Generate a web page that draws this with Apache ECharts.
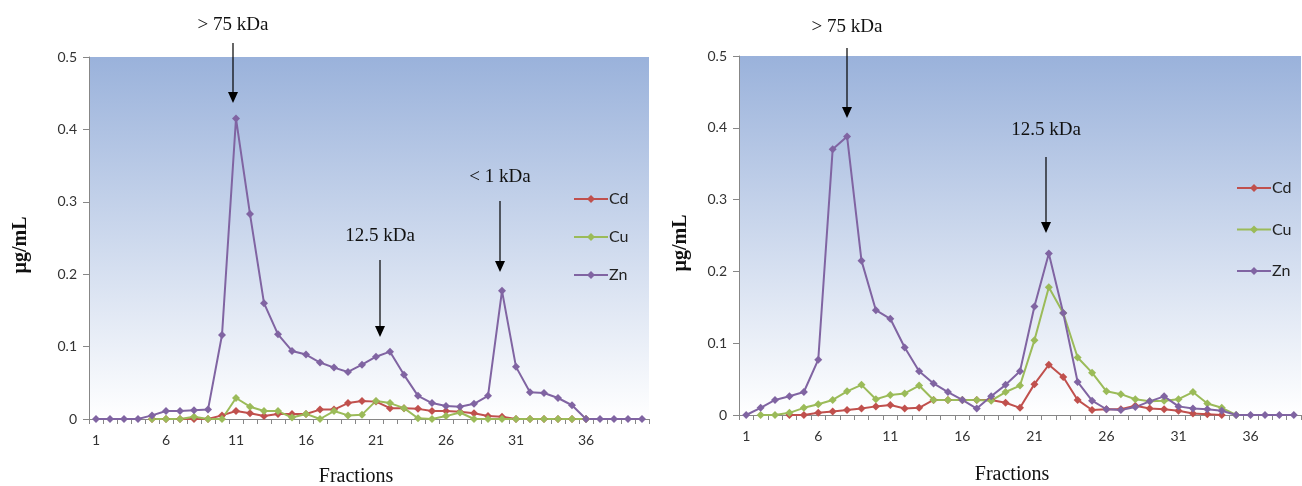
<!DOCTYPE html>
<html>
<head>
<meta charset="utf-8">
<script src="https://cdn.jsdelivr.net/npm/echarts@6/dist/echarts.min.js"></script>
<style>
html,body{margin:0;padding:0;background:#fff;}
#c{width:1302px;height:486px;}
</style>
</head>
<body>
<div id="c"></div>
<script>
// ---- data ----
const leftFractions = ['1','2','3','4','5','6','7','8','9','10','11','12','13','14','15','16','17','18','19','20','21','22','23','24','25','26','27','28','29','30','31','32','33','34','35','36','37','38','39','40'];
const rightFractions = ['1','2','3','4','5','6','7','8','9','10','11','12','13','14','15','16','17','18','19','20','21','22','23','24','25','26','27','28','29','30','31','32','33','34','35','36','37','38','39'];
const seriesNames = ['Cd','Cu','Zn'];
const yTicks = [0, 0.1, 0.2, 0.3, 0.4, 0.5];

const leftCd = [null,null,null,null,0,0,0,0,0,0.005,0.011,0.008,0.004,0.007,0.007,0.007,0.013,0.013,0.022,0.025,0.024,0.015,0.015,0.014,0.011,0.011,0.010,0.008,0.004,0.003,0,0,0,0,0,0,null,null,null,null];
const leftCu = [null,null,null,null,0,0,0,0.003,0,0,0.029,0.017,0.011,0.011,0.002,0.007,0,0.011,0.005,0.006,0.025,0.022,0.015,0.001,0,0.004,0.009,0,0,0,0,0,0,0,0,0,null,null,null,null];
const leftZn = [0,0,0,0,0.005,0.011,0.011,0.012,0.013,0.116,0.415,0.283,0.160,0.117,0.094,0.089,0.078,0.071,0.065,0.075,0.086,0.093,0.061,0.032,0.022,0.018,0.017,0.021,0.032,0.177,0.072,0.037,0.036,0.029,0.019,0,0,0,0,0];

const rightCd = [null,null,null,0,0,0.003,0.005,0.007,0.009,0.012,0.014,0.009,0.010,0.021,0.021,0.021,0.021,0.021,0.017,0.010,0.043,0.070,0.053,0.021,0.007,0.008,0.008,0.013,0.009,0.008,0.006,0.002,0.001,0,null,null,null,null,null];
const rightCu = [null,0,0,0.003,0.010,0.015,0.021,0.033,0.042,0.022,0.028,0.030,0.041,0.021,0.021,0.021,0.021,0.020,0.032,0.041,0.104,0.178,0.142,0.080,0.059,0.033,0.029,0.022,0.019,0.020,0.022,0.032,0.016,0.010,0,null,null,null,null];
const rightZn = [0,0.010,0.021,0.026,0.032,0.077,0.370,0.388,0.215,0.146,0.134,0.094,0.061,0.044,0.032,0.021,0.009,0.026,0.042,0.061,0.151,0.225,0.142,0.046,0.020,0.008,0.007,0.011,0.019,0.026,0.012,0.009,0.008,0.006,0,0,0,0,0];

// annotations (label, arrow x, text y, arrow start y, arrow tip y) in pixels
const annotations = [
  {text:'> 75 kDa', x:233, ty:25, y1:43, y2:103},
  {text:'12.5 kDa', x:380, ty:236, y1:260, y2:337},
  {text:'< 1 kDa',  x:500, ty:177, y1:201, y2:272},
  {text:'> 75 kDa', x:847, ty:27, y1:48, y2:118},
  {text:'12.5 kDa', x:1046, ty:130, y1:157, y2:233}
];

const colors = {Cd:'#C0504D', Cu:'#9BBB59', Zn:'#8064A2'};
const labelFont = 'Lato, "Open Sans", sans-serif';
const serif = '"Liberation Serif", "DejaVu Serif", serif';

const bg = {type:'linear', x:0, y:0, x2:0, y2:1, colorStops:[
  {offset:0, color:'#9AB2DB'}, {offset:1, color:'#FFFFFF'}]};

function xAxis(idx, cats){
  return {
    type:'category', gridIndex:idx, data:cats, boundaryGap:true,
    axisLine:{lineStyle:{color:'#878787', width:1}},
    axisTick:{show:true, interval:0, length:5, lineStyle:{color:'#878787'}},
    axisLabel:{interval:4, color:'#333', fontFamily:labelFont, fontSize:14, margin:14},
    splitLine:{show:false}
  };
}
function yAxis(idx){
  return {
    type:'value', gridIndex:idx, min:yTicks[0], max:yTicks[yTicks.length-1], interval:0.1,
    axisLine:{show:true, lineStyle:{color:'#878787', width:1}},
    axisTick:{show:true, length:6, lineStyle:{color:'#878787'}},
    axisLabel:{color:'#333', fontFamily:labelFont, fontSize:14, margin:12},
    splitLine:{show:false}
  };
}
function mkSeries(name, data, idx){
  return {
    name:name, type:'line', xAxisIndex:idx, yAxisIndex:idx, data:data,
    symbol:'diamond', symbolSize:8, showSymbol:true,
    lineStyle:{color:colors[name], width:2},
    itemStyle:{color:colors[name]},
    connectNulls:false, animation:false, clip:false
  };
}

const graphics = [];
annotations.forEach(a => {
  graphics.push({type:'text', x:a.x, y:a.ty, style:{text:a.text, font:'19px ' + serif, fill:'#111', align:'center', verticalAlign:'middle'}, z:100});
  graphics.push({type:'line', shape:{x1:a.x, y1:a.y1, x2:a.x, y2:a.y2 - 8}, style:{stroke:'#000', lineWidth:1.2}, z:100});
  graphics.push({type:'polygon', shape:{points:[[a.x-5, a.y2-11],[a.x+5, a.y2-11],[a.x, a.y2]]}, style:{fill:'#000'}, z:100});
});
graphics.push({type:'text', x:21, y:245, rotation:Math.PI/2, style:{text:'µg/mL', font:'bold 20px ' + serif, fill:'#111', align:'center', verticalAlign:'middle'}});
graphics.push({type:'text', x:681, y:243, rotation:Math.PI/2, style:{text:'µg/mL', font:'bold 20px ' + serif, fill:'#111', align:'center', verticalAlign:'middle'}});
graphics.push({type:'text', x:356, y:477, style:{text:'Fractions', font:'20px ' + serif, fill:'#111', align:'center', verticalAlign:'middle'}});
graphics.push({type:'text', x:1012, y:475, style:{text:'Fractions', font:'20px ' + serif, fill:'#111', align:'center', verticalAlign:'middle'}});

const option = {
  animation:false,
  backgroundColor:'#fff',
  grid:[
    {left:89, top:57, width:560, height:362, show:true, backgroundColor:bg, borderWidth:0},
    {left:739, top:56, width:562, height:359, show:true, backgroundColor:bg, borderWidth:0}
  ],
  xAxis:[xAxis(0, leftFractions), xAxis(1, rightFractions)],
  yAxis:[yAxis(0), yAxis(1)],
  legend:[
    {data:seriesNames, orient:'vertical', left:568, top:186, itemWidth:34, itemHeight:10, itemGap:22,
     textStyle:{fontFamily:labelFont, fontSize:16, color:'#222', padding:[0,0,0,-4]}},
    {data:seriesNames, orient:'vertical', left:1231, top:175, itemWidth:34, itemHeight:10, itemGap:25.5,
     textStyle:{fontFamily:labelFont, fontSize:16, color:'#222', padding:[0,0,0,-4]}}
  ],
  series:[
    mkSeries('Cd', leftCd, 0), mkSeries('Cu', leftCu, 0), mkSeries('Zn', leftZn, 0),
    mkSeries('Cd', rightCd, 1), mkSeries('Cu', rightCu, 1), mkSeries('Zn', rightZn, 1)
  ],
  graphic:graphics
};
const chart = echarts.init(document.getElementById('c'), null, {renderer:'canvas'});
chart.setOption(option);
</script>
</body>
</html>
